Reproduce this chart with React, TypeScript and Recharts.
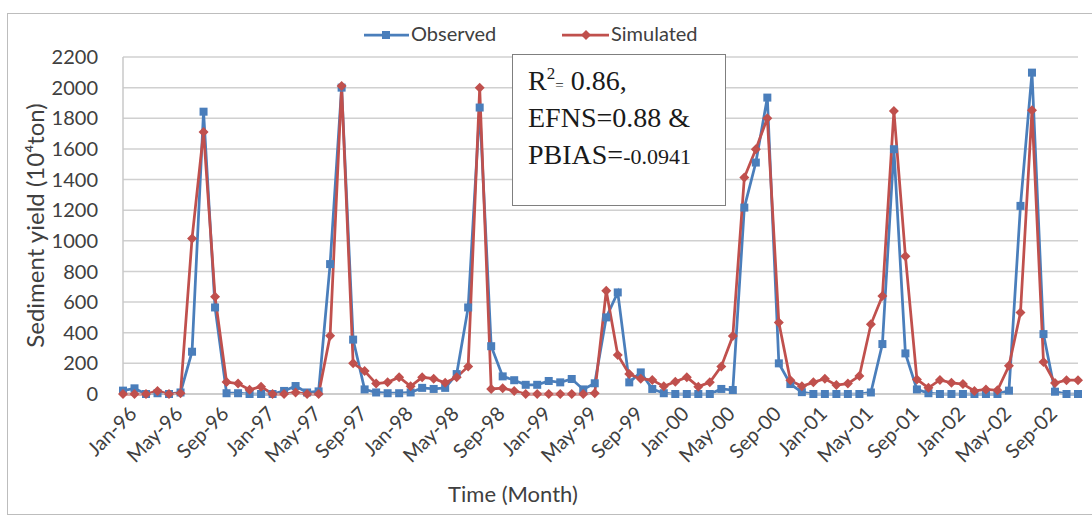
import React from 'react';
import { LineChart, Line, XAxis, YAxis, CartesianGrid, Label } from 'recharts';

// month labels Jan-96 .. Dec-02
const monthNames = ['Jan', 'Feb', 'Mar', 'Apr', 'May', 'Jun', 'Jul', 'Aug', 'Sep', 'Oct', 'Nov', 'Dec'];
const yearSuffixes = ['96', '97', '98', '99', '00', '01', '02'];
const categories = yearSuffixes.flatMap(y => monthNames.map(m => `${m}-${y}`));

// Sediment yield (10^4 ton)
const observed = [
  22, 37, 0, 5, 0, 10, 276, 1843, 565, 5, 5, 0,
  0, 0, 20, 52, 10, 17, 848, 2000, 355, 30, 10, 5,
  5, 10, 40, 33, 40, 130, 565, 1870, 312, 115, 90, 60,
  60, 85, 76, 98, 30, 70, 500, 663, 76, 141, 33, 5,
  0, 0, 0, 0, 33, 26, 1217, 1511, 1935, 200, 65, 12,
  0, 0, 0, 0, 0, 10, 326, 1598, 265, 30, 5, 0,
  0, 0, 0, 0, 0, 22, 1228, 2098, 391, 15, 0, 0,
];
const simulated = [
  0, 0, 0, 20, 0, 5, 1015, 1711, 635, 78, 68, 28,
  48, 0, 0, 10, 0, 0, 380, 2010, 200, 150, 68, 76,
  110, 50, 109, 100, 73, 110, 180, 2000, 33, 38, 20, 0,
  0, 0, 0, 0, 0, 5, 674, 255, 130, 100, 91, 50,
  80, 110, 48, 76, 180, 378, 1413, 1598, 1800, 467, 89, 50,
  76, 100, 58, 68, 118, 455, 640, 1848, 900, 95, 40, 92,
  73, 65, 20, 30, 24, 184, 532, 1852, 209, 72, 90, 90,
];
const yTicks = [0, 200, 400, 600, 800, 1000, 1200, 1400, 1600, 1800, 2000, 2200];

const data = categories.map((month, i) => ({
  month,
  Observed: observed[i],
  Simulated: simulated[i],
}));

const BLUE = '#4A7EBB';
const RED = '#C0504D';
const TEXT = '#404040';

const SquareDot = (props: any) => {
  const { cx, cy, index } = props;
  return <rect key={`sq-${index}`} x={cx - 4} y={cy - 4} width={8} height={8} fill={BLUE} />;
};

const DiamondDot = (props: any) => {
  const { cx, cy, index } = props;
  return (
    <path
      key={`dm-${index}`}
      d={`M${cx},${cy - 5}L${cx + 5},${cy}L${cx},${cy + 5}L${cx - 5},${cy}Z`}
      fill={RED}
    />
  );
};

const MonthTick = (props: any) => {
  const { x, y, payload } = props;
  return (
    <text
      x={0}
      y={0}
      transform={`translate(${x + 15},${y + 13}) rotate(-45)`}
      textAnchor="end"
      fontSize={20}
      fontFamily="Lato"
      fill={TEXT}
    >
      {payload.value}
    </text>
  );
};

export default function App() {
  return (
    <div style={{ position: 'absolute', left: 0, top: 0, width: 1092, height: 518, background: '#fff' }}>
      <div
        style={{
          position: 'absolute',
          left: 7,
          top: 13,
          width: 1100,
          height: 500,
          border: '1.5px solid #BDBDBD',
        }}
      />
      <div style={{ position: 'absolute', left: 0, top: 0 }}>
        <LineChart width={1092} height={518} data={data} margin={{ top: 57, right: 14, left: 0, bottom: 0 }}>
          <CartesianGrid vertical={false} stroke="#D0D0D0" strokeWidth={1.5} />
          <XAxis
            dataKey="month"
            interval={3}
            height={124}
            tickLine={false}
            axisLine={{ stroke: '#C8C8C8', strokeWidth: 1.5 }}
            tick={<MonthTick />}
          >
            <Label
              content={() => (
                <text x={513} y={502} textAnchor="middle" fontSize={22} fontFamily="Lato" fill={TEXT}>
                  Time (Month)
                </text>
              )}
            />
          </XAxis>
          <YAxis
            width={123}
            domain={[0, 2200]}
            ticks={yTicks}
            interval={0}
            tickLine={false}
            tickSize={0}
            tickMargin={25}
            axisLine={{ stroke: '#C8C8C8', strokeWidth: 1.5 }}
            tick={{ fontSize: 20, fontFamily: 'Lato', fill: TEXT }}
          >
            <Label
              content={(p: any) => {
                const vb = p.viewBox;
                const cy = vb.y + vb.height / 2;
                return (
                  <text
                    x={38}
                    y={cy}
                    transform={`rotate(-90, 38, ${cy})`}
                    textAnchor="middle"
                    dominantBaseline="middle"
                    fontSize={24}
                    fontFamily="Lato"
                    fill={TEXT}
                  >
                    Sediment yield (10⁴ton)
                  </text>
                );
              }}
            />
          </YAxis>
          <Line
            type="linear"
            dataKey="Observed"
            stroke={BLUE}
            strokeWidth={2.75}
            dot={<SquareDot />}
            activeDot={false}
            isAnimationActive={false}
          />
          <Line
            type="linear"
            dataKey="Simulated"
            stroke={RED}
            strokeWidth={2.75}
            dot={<DiamondDot />}
            activeDot={false}
            isAnimationActive={false}
          />
        </LineChart>
      </div>

      {/* legend */}
      <svg style={{ position: 'absolute', left: 0, top: 0 }} width={1092} height={60}>
        <line x1={364} y1={35} x2={409} y2={35} stroke={BLUE} strokeWidth={2.75} />
        <rect x={382} y={31} width={8} height={8} fill={BLUE} />
        <text x={411} y={41} fontSize={20} fontFamily="Lato" fill={TEXT}>Observed</text>
        <line x1={562} y1={35} x2={609} y2={35} stroke={RED} strokeWidth={2.75} />
        <path d="M586,30L591,35L586,40L581,35Z" fill={RED} />
        <text x={611} y={41} fontSize={20} fontFamily="Lato" fill={TEXT}>Simulated</text>
      </svg>

      {/* statistics box */}
      <div
        style={{
          position: 'absolute',
          left: 512,
          top: 54,
          width: 214,
          height: 152,
          border: '1.5px solid #7F7F7F',
          background: '#fff',
          boxSizing: 'border-box',
        }}
      >
        <svg width={214} height={152} style={{ position: 'absolute', left: -1.5, top: -1.5 }}>
          <g fontFamily="Liberation Serif" fill="#1a1a1a">
            <text x={16} y={36} fontSize={28}>
              R<tspan fontSize={17} dy={-11}>2</tspan>
              <tspan fontSize={15} dy={11}>=</tspan>
              <tspan fontSize={28}> 0.86,</tspan>
            </text>
            <text x={16} y={73} fontSize={28}>EFNS=0.88 &amp;</text>
            <text x={16} y={110} fontSize={28}>
              PBIAS=<tspan fontSize={22}>-0.0941</tspan>
            </text>
          </g>
        </svg>
      </div>
    </div>
  );
}
